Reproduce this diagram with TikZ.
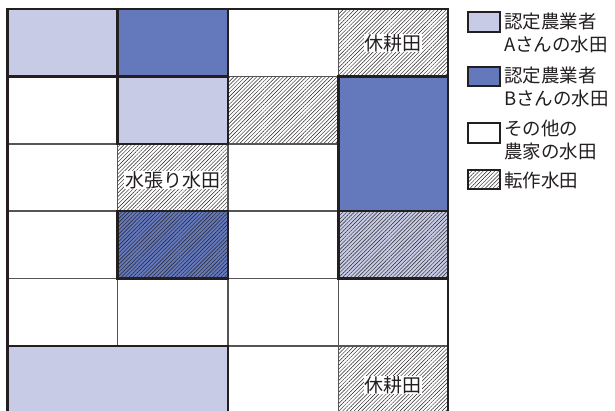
\documentclass[tikz,border=0pt]{standalone}
\usepackage{fontspec}
\newfontfamily\jp{Noto Sans CJK JP}
\usetikzlibrary{patterns.meta}
\definecolor{aCol}{HTML}{C7CBE5}
\definecolor{bCol}{HTML}{6478BC}
\definecolor{ink}{HTML}{231F20}
\definecolor{gridgray}{HTML}{555555}
\begin{document}
\begin{tikzpicture}[x=1pt,y=-1pt,
  hatch/.style={pattern={Lines[angle=45,distance=2.7pt,line width=0.45pt]},pattern color=ink},
  gridline/.style={draw=gridgray,line width=1.2pt},
  plotline/.style={draw=ink,line width=2.4pt},
  lbl/.style={font=\jp\fontsize{19}{19}\selectfont,fill=white,inner sep=0.6pt,text=ink},
  swatch/.style={draw=ink,line width=2.3pt,minimum width=32pt,minimum height=19.5pt,inner sep=0pt},
  legtext/.style={font=\jp\fontsize{18.5}{23.5}\selectfont,align=left,anchor=west,inner sep=0pt,text=ink}]
\useasboundingbox (0,0) rectangle (615,410);
\fill[white] (0,0) rectangle (615,410);
\begin{scope}
\clip (0,0) rectangle (615,410);
% fills
\fill[aCol] (7.5,9) rectangle (117.5,76.5);
\fill[aCol] (117.5,76.5) rectangle (228,144);
\fill[aCol] (7.5,346) rectangle (228,414);
\fill[bCol] (117.5,9) rectangle (228,76.5);
\fill[bCol] (338.5,76.5) rectangle (448,211);
\fill[bCol] (117.5,211) rectangle (228,278.5);
\fill[aCol] (338.5,211) rectangle (448,278.5);
% hatching
\path[hatch] (338.5,9) rectangle (448,76.5);
\path[hatch] (228,76.5) rectangle (338.5,144);
\path[hatch] (117.5,144) rectangle (228,211);
\path[hatch] (117.5,211) rectangle (228,278.5);
\path[hatch] (338.5,211) rectangle (448,278.5);
\path[hatch] (338.5,346) rectangle (448,414);
% thin grid
\draw[gridline] (117.5,9) -- (117.5,346);
\foreach \x in {228,338.5} \draw[gridline] (\x,9) -- (\x,414);
\foreach \y in {76.5,211,278.5,346} \draw[gridline] (7.5,\y) -- (448,\y);
\draw[gridline] (7.5,144) -- (338.5,144);
% plot outlines
\draw[plotline] (7.5,9) rectangle (117.5,76.5);
\draw[plotline] (117.5,76.5) rectangle (228,144);
\draw[plotline] (7.5,346) rectangle (228,414);
\draw[plotline] (117.5,9) rectangle (228,76.5);
\draw[plotline] (338.5,76.5) rectangle (448,211);
\draw[plotline] (117.5,211) rectangle (228,278.5);
\draw[plotline] (338.5,211) rectangle (448,278.5);
% outer border
\draw[plotline] (7.5,414) -- (7.5,9) -- (448,9) -- (448,414);
\end{scope}
% labels
\node[lbl] (kyu1) at (393.3,43) {休耕田};
\node[lbl] (mizu) at (172.5,180) {水張り水田};
\node[lbl] (kyu2) at (393.3,385) {休耕田};
% legend
\node[swatch,fill=aCol] (swA) at (484,22) {};
\node[swatch,fill=bCol] (swB) at (484,76.5) {};
\node[swatch,fill=white] (swO) at (484,133) {};
\node[swatch,hatch] (swT) at (484,179.5) {};
\node[legtext] (txA) at (504,33) {認定農業者\\Aさんの水田};
\node[legtext] (txB) at (504,87) {認定農業者\\Bさんの水田};
\node[legtext] (txO) at (504,140) {その他の\\農家の水田};
\node[legtext] (txT) at (504,180) {転作水田};
\end{tikzpicture}
\end{document}
